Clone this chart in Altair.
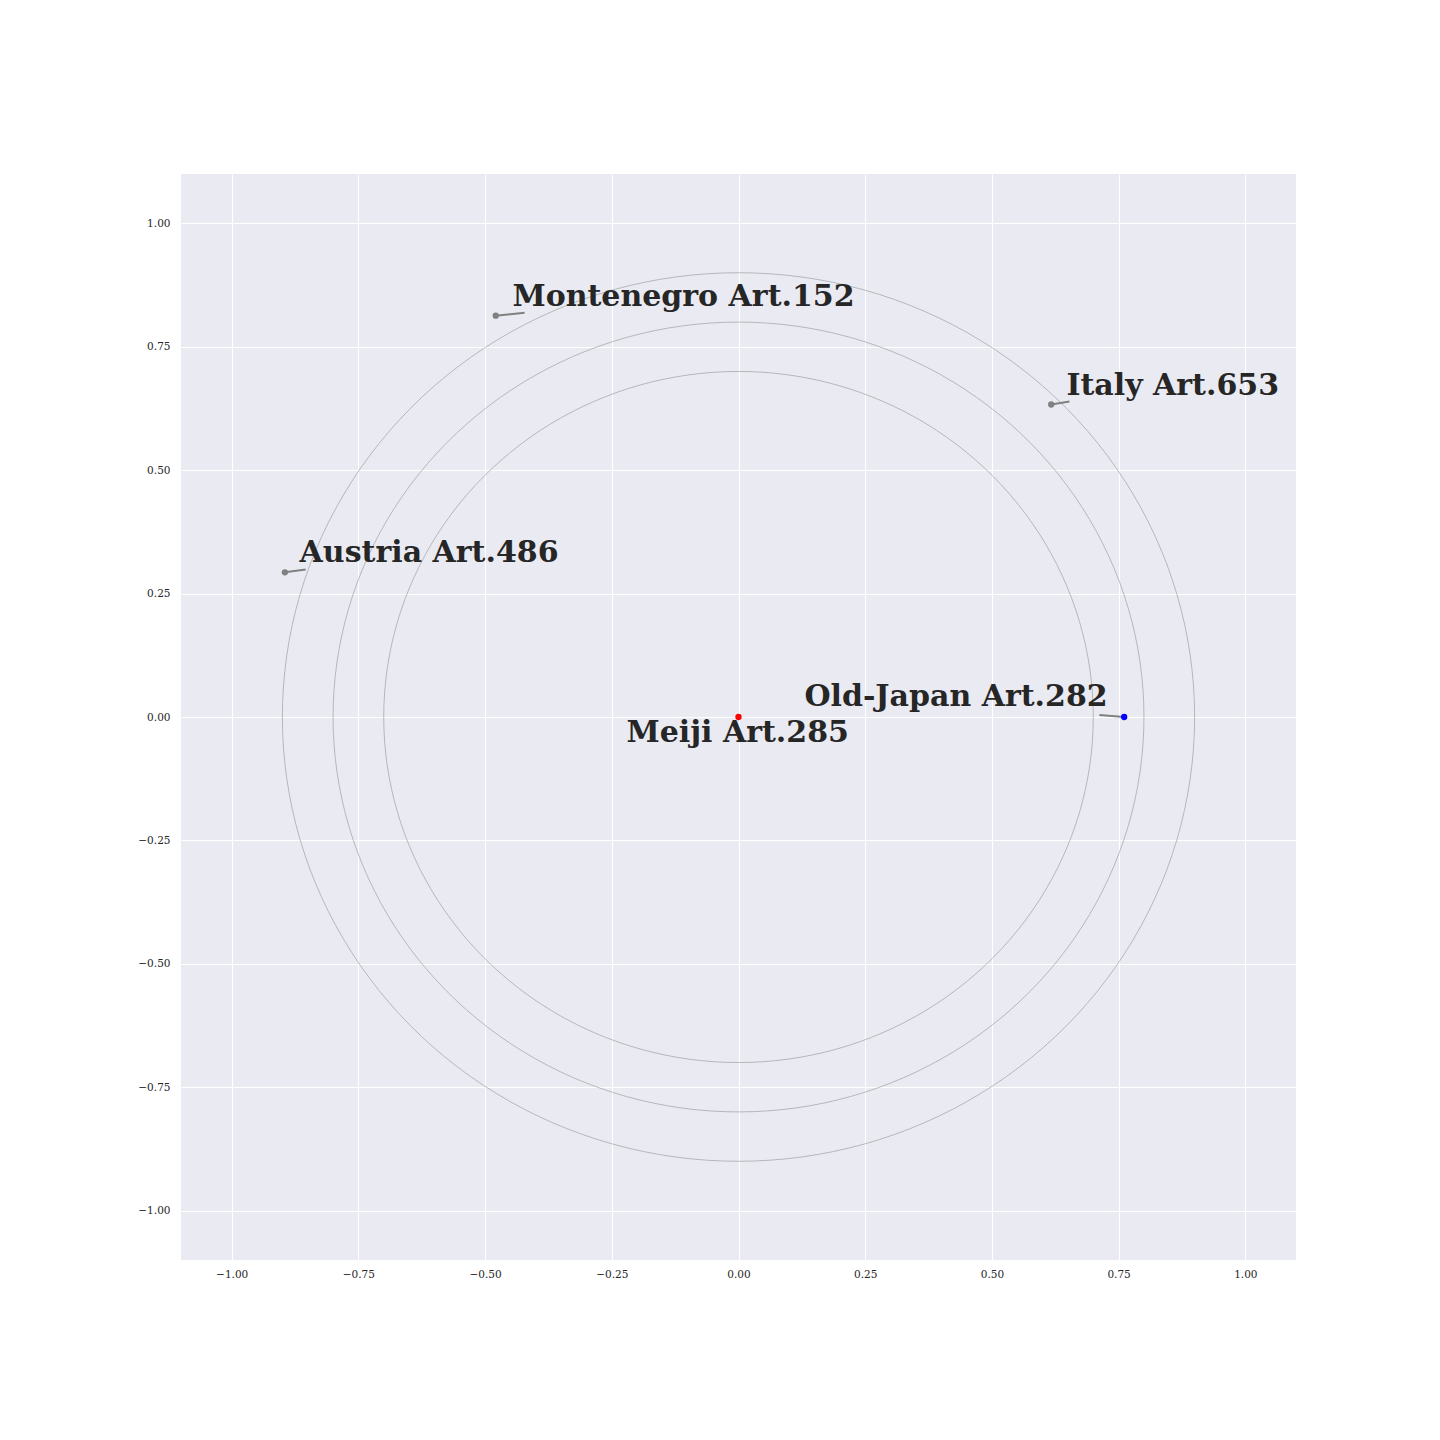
import altair as alt
import pandas as pd

# points
names = ["Meiji Art.285", "Old-Japan Art.282", "Montenegro Art.152", "Italy Art.653", "Austria Art.486"]
px = [0.0, 0.761, -0.479, 0.617, -0.895]
py = [0.0, 0.0, 0.813, 0.633, 0.293]
pcolor = ["red", "blue", "gray", "gray", "gray"]

# label anchors (left, baseline)
lx = [-0.221, 0.130, -0.446, 0.647, -0.866]
ly = [-0.051, 0.022, 0.833, 0.653, 0.313]

# connector ends (from point to near label)
cx2 = [0.0, 0.712, -0.422, 0.653, -0.854]
cy2 = [0.0, 0.004, 0.819, 0.639, 0.299]
has_conn = [False, True, True, True, True]

radii = [0.7, 0.8, 0.9]
ticks = [-1.0, -0.75, -0.5, -0.25, 0.0, 0.25, 0.5, 0.75, 1.0]

pts = pd.DataFrame({"name": names, "x": px, "y": py, "color": pcolor,
                    "lx": lx, "ly": ly, "x2": cx2, "y2": cy2, "conn": has_conn})
circ = pd.DataFrame({"r": radii, "deg": [list(range(0, 361, 2))] * len(radii)})

label_expr = "replace(format(datum.value, '.2f'), '-', '\u2212')"
xscale = alt.Scale(domain=[-1.1, 1.1], nice=False, zero=False)
yscale = alt.Scale(domain=[-1.1, 1.1], nice=False, zero=False)
xaxis = alt.Axis(values=ticks, labelExpr=label_expr, title=None, domain=False, ticks=False,
                 grid=True, gridColor="white", gridWidth=1, labelFont="DejaVu Serif",
                 labelFontSize=10.5, labelColor="#262626", labelPadding=9)
yaxis = alt.Axis(values=ticks, labelExpr=label_expr, title=None, domain=False, ticks=False,
                 grid=True, gridColor="white", gridWidth=1, labelFont="DejaVu Serif",
                 labelFontSize=10.5, labelColor="#262626", labelPadding=11)

circles = alt.Chart(circ).transform_flatten(["deg"]).transform_calculate(
    cx="datum.r * cos(datum.deg * PI / 180)",
    cy="datum.r * sin(datum.deg * PI / 180)",
).mark_line(color="#a0a0a0", strokeWidth=0.7, clip=True).encode(
    x=alt.X("cx:Q", scale=xscale, axis=xaxis),
    y=alt.Y("cy:Q", scale=yscale, axis=yaxis),
    detail="r:N",
    order="deg:Q",
)

conn = alt.Chart(pts).transform_filter("datum.conn").mark_rule(color="#808080", strokeWidth=2).encode(
    x=alt.X("x:Q", scale=xscale), y=alt.Y("y:Q", scale=yscale),
    x2="x2:Q", y2="y2:Q",
)

dots = alt.Chart(pts).mark_circle(size=40, opacity=1).encode(
    x=alt.X("x:Q", scale=xscale), y=alt.Y("y:Q", scale=yscale),
    color=alt.Color("color:N", scale=None),
)

labels = alt.Chart(pts).mark_text(align="left", baseline="alphabetic", font="DejaVu Serif",
                                  fontWeight="bold", fontSize=30, color="#262626").encode(
    x=alt.X("lx:Q", scale=xscale), y=alt.Y("ly:Q", scale=yscale), text="name:N",
)

chart = alt.layer(circles, conn, dots, labels).properties(
    width=1115, height=1086,
    autosize=alt.AutoSizeParams(type="none"),
    padding={"left": 173, "top": 166, "right": 10, "bottom": 60},
    background="white",
).configure_view(fill="#EAEAF2", stroke=None)

chart.save("out.html", embed_options={"renderer": "svg", "actions": False})
